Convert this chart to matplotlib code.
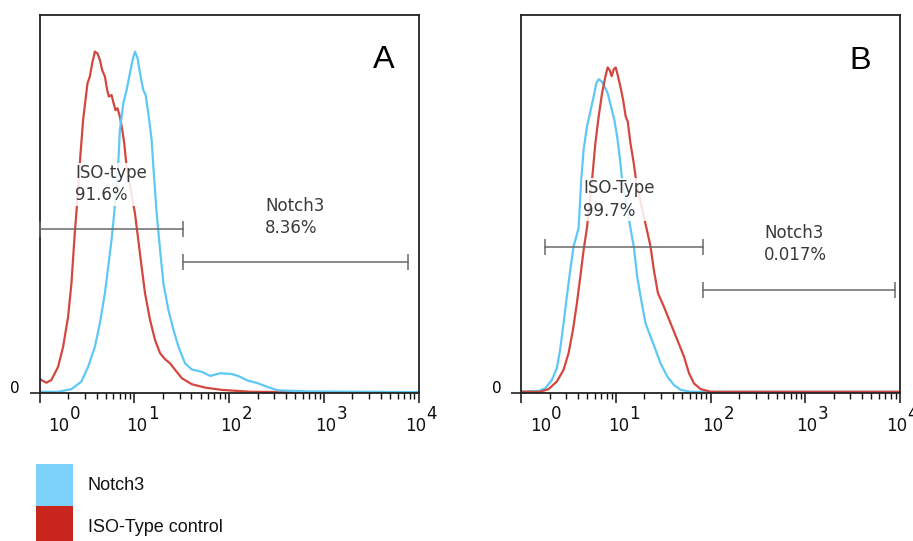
import numpy as np
import matplotlib
matplotlib.use("Agg")
import matplotlib.pyplot as plt
from matplotlib.patches import Rectangle
from matplotlib.ticker import FixedLocator, LogLocator, NullFormatter
import matplotlib.transforms as mtransforms

# ---------------- data (x as log10 fluorescence, y as % of max count) ----------------
a_iso_logx = [0.0, 0.019, 0.072, 0.125, 0.196, 0.249, 0.302, 0.337, 0.372, 0.389, 0.425, 0.460,
              0.506, 0.531, 0.556, 0.584, 0.612, 0.637, 0.661, 0.690, 0.714, 0.732, 0.760, 0.778,
              0.802, 0.823, 0.848, 0.873, 0.894, 0.919, 0.958, 1.007, 1.042, 1.077, 1.113, 1.166,
              1.219, 1.272, 1.325, 1.378, 1.431, 1.501, 1.607, 1.748, 1.924, 2.228, 2.757, 4.0]
a_iso_y = [4.0, 3.5, 2.8, 3.5, 7.0, 12.3, 20.3, 29.1, 42.3, 47.6, 60.8, 72.3,
           82.0, 83.8, 87.3, 90.4, 89.9, 88.2, 85.5, 83.8, 80.2, 78.5, 78.9, 77.1,
           74.9, 75.4, 73.2, 69.7, 66.1, 59.9, 54.5, 47.6, 40.6, 33.5, 26.5, 19.4,
           14.1, 10.6, 9.0, 7.9, 6.2, 4.0, 2.4, 1.5, 0.9, 0.4, 0.3, 0.3]

a_notch_logx = [0.0, 0.196, 0.337, 0.442, 0.513, 0.584, 0.637, 0.690, 0.725, 0.760, 0.788, 0.831,
                0.848, 0.884, 0.919, 0.954, 0.982, 1.007, 1.035, 1.060, 1.095, 1.120, 1.148, 1.183,
                1.201, 1.236, 1.272, 1.307, 1.360, 1.413, 1.466, 1.536, 1.607, 1.712, 1.801, 1.907,
                2.030, 2.104, 2.193, 2.298, 2.404, 2.510, 2.828, 4.0]
a_notch_y = [0.4, 0.4, 1.1, 3.1, 7.0, 12.3, 18.5, 26.5, 33.5, 40.6, 47.6, 60.8,
             69.7, 76.7, 80.2, 84.7, 88.2, 90.4, 88.6, 84.7, 80.2, 78.9, 74.1, 67.0,
             59.9, 47.6, 37.9, 29.1, 22.0, 16.8, 12.3, 7.9, 6.3, 5.7, 4.6, 5.3,
             5.1, 4.5, 3.4, 2.7, 1.7, 0.8, 0.5, 0.3]

b_iso_logx = [0.0, 0.199, 0.288, 0.376, 0.447, 0.500, 0.546, 0.588, 0.624, 0.659, 0.694, 0.748,
              0.783, 0.818, 0.854, 0.889, 0.913, 0.934, 0.955, 0.977, 0.998, 1.019, 1.048, 1.076,
              1.104, 1.125, 1.154, 1.189, 1.217, 1.270, 1.323, 1.366, 1.401, 1.444, 1.507, 1.578,
              1.649, 1.719, 1.772, 1.825, 1.896, 2.002, 4.0]
b_iso_y = [0.4, 0.4, 1.1, 3.1, 6.2, 10.6, 16.7, 23.8, 30.8, 37.9, 43.7, 56.4,
           66.1, 73.2, 79.4, 83.8, 86.2, 85.5, 83.9, 85.7, 86.2, 84.2, 81.1, 77.6,
           73.2, 71.9, 66.1, 60.8, 55.6, 49.5, 43.7, 38.8, 32.6, 26.5, 22.9, 18.5,
           14.1, 9.7, 5.3, 2.6, 1.1, 0.4, 0.4]

b_notch_logx = [0.0, 0.181, 0.252, 0.323, 0.376, 0.411, 0.447, 0.482, 0.518, 0.553, 0.606, 0.634,
                0.659, 0.694, 0.730, 0.765, 0.793, 0.818, 0.854, 0.881, 0.913, 0.949, 0.984, 1.013,
                1.040, 1.066, 1.110, 1.154, 1.189, 1.225, 1.267, 1.313, 1.366, 1.419, 1.472, 1.543,
                1.613, 1.684, 1.790, 4.0]
b_notch_y = [0.5, 0.6, 1.3, 3.5, 6.6, 11.5, 18.5, 25.6, 32.6, 38.8, 43.7, 56.4,
             64.4, 70.5, 74.5, 78.5, 82.0, 83.1, 82.4, 81.1, 79.4, 75.8, 72.3, 67.9,
             62.6, 56.4, 50.0, 43.7, 38.8, 30.8, 24.7, 18.5, 15.0, 11.5, 7.9, 4.4,
             2.2, 0.9, 0.4, 0.4]

# gates: (low, high, level)
a_iso_gate = (1.0, 33.0, 43.5)
a_notch_gate = (33.0, 7800.0, 34.8)
b_iso_gate = (1.79, 82.7, 38.8)
b_notch_gate = (82.7, 8770.0, 27.3)

a_labels = [("ISO-type", "91.6%"), ("Notch3", "8.36%")]
b_labels = [("ISO-Type", "99.7%"), ("Notch3", "0.017%")]
panel_letters = ["A", "B"]
decade_exps = [0, 1, 2, 3, 4]
legend_names = ["Notch3", "ISO-Type control"]

# ---------------- style ----------------
RED_LINE = "#D4473F"
BLUE_LINE = "#5EC8F5"
RED_PATCH = "#C8261C"
BLUE_PATCH = "#7CD2FA"
GATE = "#6a6a6a"
TXT = "#3a3a3a"

W, H = 913, 541
fig = plt.figure(figsize=(W / 100, H / 100), dpi=100)


def px_rect(l, t, r, b):
    return [l / W, 1 - b / H, (r - l) / W, (b - t) / H]


axA = fig.add_axes(px_rect(39.5, 15.3, 418.7, 393.3))
axB = fig.add_axes(px_rect(521.2, 15.3, 900.0, 393.3))

PT = 0.72  # points per pixel at 100 dpi


def setup(ax):
    ax.set_xscale("log")
    ax.set_xlim(1, 1e4)
    ax.set_ylim(0, 100)
    for s in ax.spines.values():
        s.set_linewidth(1.3)
        s.set_color("#222222")
    ax.xaxis.set_major_locator(FixedLocator([10.0 ** k for k in decade_exps]))
    ax.xaxis.set_minor_locator(LogLocator(base=10, subs=np.arange(2, 10), numticks=100))
    ax.xaxis.set_minor_formatter(NullFormatter())
    ax.tick_params(axis="x", which="major", direction="out", length=10 * PT, width=1.1,
                   color="#111111", labelbottom=False)
    ax.tick_params(axis="x", which="minor", direction="out", length=6 * PT, width=1.0,
                   color="#111111")
    ax.set_yticks([0])
    ax.set_yticklabels(["0"])
    ax.tick_params(axis="y", direction="out", length=10.5 * PT, width=1.1, pad=6.5,
                   labelsize=11, color="#111111")
    for lab in ax.get_yticklabels():
        lab.set_va("baseline")
    blend = mtransforms.blended_transform_factory(ax.transData, ax.transAxes)
    offsets = {0: 8.5, 1: -8, 2: -8.7, 3: -9, 4: -14}
    for k in decade_exps:
        dx = offsets[k]
        ax.annotate("10", xy=(10.0 ** k, 0), xycoords=blend, xytext=(dx * PT, -38 * PT),
                    textcoords="offset points", ha="left", va="baseline", fontsize=12,
                    color="#111111", annotation_clip=False)
        ax.annotate(str(k), xy=(10.0 ** k, 0), xycoords=blend,
                    xytext=((dx + 21.5) * PT, -25.5 * PT), textcoords="offset points",
                    ha="left", va="baseline", fontsize=12, color="#111111",
                    annotation_clip=False)


def gate(ax, g):
    lo, hi, lev = g
    ax.plot([lo, hi], [lev, lev], color=GATE, lw=1.1, marker="|", markersize=11,
            mew=1.1, zorder=3, clip_on=False)


def label(ax, xf, yf, lines):
    ax.text(xf, yf, "\n".join(lines), transform=ax.transAxes, ha="left", va="top",
            fontsize=12, color=TXT, linespacing=1.3, zorder=6,
            bbox=dict(facecolor="white", edgecolor="none", alpha=0.85, pad=1.0))


for ax in (axA, axB):
    setup(ax)

# Panel A
axA.plot(10.0 ** np.array(a_iso_logx), a_iso_y, color=RED_LINE, lw=1.6, zorder=2)
axA.plot(10.0 ** np.array(a_notch_logx), a_notch_y, color=BLUE_LINE, lw=1.6, zorder=2)
gate(axA, a_iso_gate)
gate(axA, a_notch_gate)
label(axA, 0.0936, 0.606, a_labels[0])
label(axA, 0.595, 0.520, a_labels[1])
axA.text(0.880, 0.860, panel_letters[0], transform=axA.transAxes, ha="left", va="baseline",
         fontsize=23.4, family="Liberation Sans", color="black")

# Panel B
axB.plot(10.0 ** np.array(b_notch_logx), b_notch_y, color=BLUE_LINE, lw=1.6, zorder=2)
axB.plot(10.0 ** np.array(b_iso_logx), b_iso_y, color=RED_LINE, lw=1.6, zorder=2)
gate(axB, b_iso_gate)
gate(axB, b_notch_gate)
label(axB, 0.164, 0.566, b_labels[0])
label(axB, 0.641, 0.448, b_labels[1])
axB.text(0.866, 0.858, panel_letters[1], transform=axB.transAxes, ha="left", va="baseline",
         fontsize=23.4, family="Liberation Sans", color="black")

# Legend
for (top, bot), colr in zip([(464.3, 506.0), (506.0, 545.0)], [BLUE_PATCH, RED_PATCH]):
    fig.add_artist(Rectangle((36 / W, 1 - bot / H), (72.7 - 36) / W, (bot - top) / H,
                             transform=fig.transFigure, facecolor=colr, edgecolor="none"))
for name, base in zip(legend_names, [490.0, 532.3]):
    fig.text(87.5 / W, 1 - base / H, name, ha="left", va="baseline", fontsize=13,
             family="Liberation Sans", color="#111111")

fig.savefig("out.png", dpi=100)
